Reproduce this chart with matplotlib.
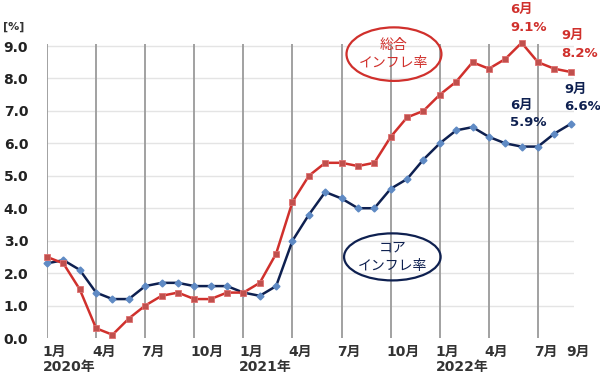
import matplotlib
matplotlib.use("Agg")
import matplotlib.pyplot as plt
from matplotlib.patches import Ellipse

plt.rcParams['font.family'] = ['DejaVu Sans', 'Noto Sans CJK JP']

# monthly values, Jan 2020 .. Sep 2022 (%)
headline = [2.5, 2.3, 1.5, 0.3, 0.1, 0.6, 1.0, 1.3, 1.4, 1.2, 1.2, 1.4,
            1.4, 1.7, 2.6, 4.2, 5.0, 5.4, 5.4, 5.3, 5.4, 6.2, 6.8, 7.0,
            7.5, 7.9, 8.5, 8.3, 8.6, 9.1, 8.5, 8.3, 8.2]
core = [2.3, 2.4, 2.1, 1.4, 1.2, 1.2, 1.6, 1.7, 1.7, 1.6, 1.6, 1.6,
        1.4, 1.3, 1.6, 3.0, 3.8, 4.5, 4.3, 4.0, 4.0, 4.6, 4.9, 5.5,
        6.0, 6.4, 6.5, 6.2, 6.0, 5.9, 5.9, 6.3, 6.6]
tick_pos = [0, 3, 6, 9, 12, 15, 18, 21, 24, 27, 30, 32]
tick_labels = ['1月', '4月', '7月', '10月', '1月', '4月', '7月', '10月',
               '1月', '4月', '7月', '9月']
year_pos = [0, 12, 24]
year_labels = ['2020年', '2021年', '2022年']
yticks = [0, 1, 2, 3, 4, 5, 6, 7, 8, 9]

RED = '#d0302c'
NAVY = '#0e2050'

fig = plt.figure(figsize=(6, 3.74), dpi=100)
ax = fig.add_axes([47 / 600, 36 / 374, 527 / 600, 293.6 / 374])
x = list(range(len(headline)))

for yv in yticks[1:]:
    ax.axhline(yv, color='#e4e4e4', lw=1, zorder=0)
for p in tick_pos[:-1]:
    ax.axvline(p, color='#9a9a9a', lw=1.3, zorder=1)

ax.plot(x, core, color=NAVY, lw=1.8, marker='D', ms=3.5,
        mfc='#5f8ac4', mec='#5f8ac4', zorder=3, clip_on=False)
ax.plot(x, headline, color=RED, lw=1.8, marker='s', ms=4.5,
        mfc='#c0504d', mec='#e07070', mew=0.6, zorder=4, clip_on=False)

ax.set_xlim(0, 32.2)
ax.set_ylim(0, 9.05)
for s in ax.spines.values():
    s.set_visible(False)

ax.set_yticks(yticks)
ax.set_yticklabels([f'{v:.1f}' for v in yticks], fontsize=10,
                   fontweight='bold', color='#222222')
ax.tick_params(axis='y', length=0, pad=13.5)
ax.set_xticks([])
for p, lab in zip(tick_pos, tick_labels):
    ax.text(p - 0.25, -0.2, lab, ha='left', va='top', fontsize=10,
            fontweight='bold', color='#333333')
for p, lab in zip(year_pos, year_labels):
    ax.text(p - 0.25, -0.68, lab, ha='left', va='top', fontsize=10,
            fontweight='bold', color='#333333')

fig.text(3 / 600, 1 - 27 / 374, '[%]', fontsize=8, fontweight='bold',
         color='#333333', va='center', ha='left')

# ellipse labels
ax.add_patch(Ellipse((21.2, 8.75), 5.8, 1.65, fill=False, ec=RED, lw=1.6,
                     clip_on=False))
ax.text(21.2, 8.75, '総合\nインフレ率', ha='center', va='center', fontsize=10,
        color=RED, linespacing=1.35)
ax.add_patch(Ellipse((21.1, 2.5), 5.9, 1.45, fill=False, ec=NAVY, lw=1.6))
ax.text(21.1, 2.5, 'コア\nインフレ率', ha='center', va='center', fontsize=10,
        color=NAVY, linespacing=1.35)

# value callouts
ax.text(28.3, 9.85, '6月\n9.1%', ha='left', va='center', fontsize=9.5,
        fontweight='bold', color=RED, linespacing=1.45)
ax.text(31.4, 9.05, '9月\n8.2%', ha='left', va='center', fontsize=9.5,
        fontweight='bold', color=RED, linespacing=1.45)
ax.text(28.3, 6.9, '6月\n5.9%', ha='left', va='center', fontsize=9.5,
        fontweight='bold', color=NAVY, linespacing=1.45)
ax.text(31.6, 7.4, '9月\n6.6%', ha='left', va='center', fontsize=9.5,
        fontweight='bold', color=NAVY, linespacing=1.45)

fig.savefig('out.png', dpi=100)
